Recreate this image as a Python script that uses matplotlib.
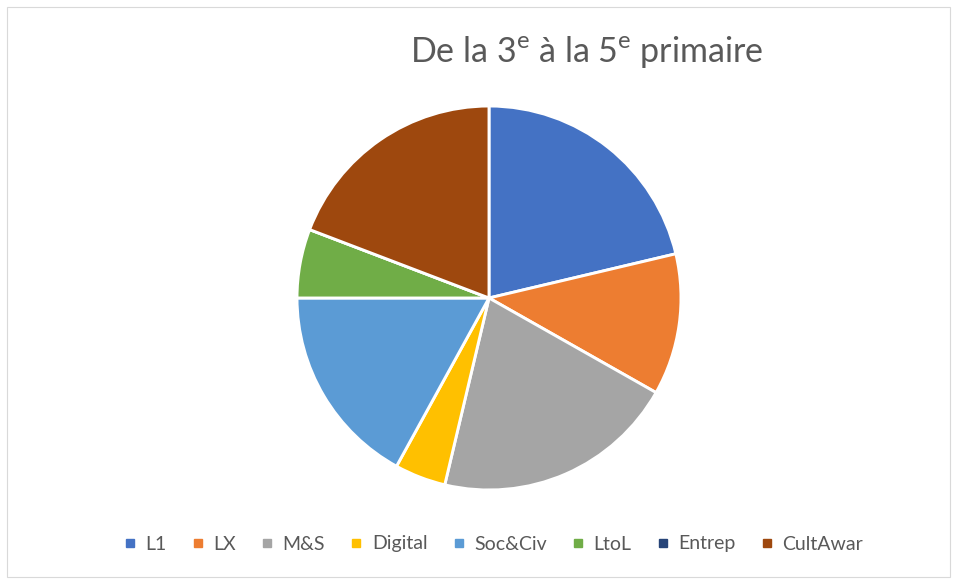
import matplotlib
matplotlib.use("Agg")
import matplotlib.pyplot as plt
from matplotlib.lines import Line2D
from matplotlib.patches import Rectangle

plt.rcParams["font.family"] = ["Lato", "DejaVu Sans"]
plt.rcParams["mathtext.fontset"] = "custom"
plt.rcParams["mathtext.rm"] = "Lato"

categories = ["L1", "LX", "M&S", "Digital", "Soc&Civ", "LtoL", "Entrep", "CultAwar"]
shares = [21.3, 11.9, 20.5, 4.3, 17.0, 5.8, 0.0, 19.2]
colors = ["#4472C4", "#ED7D31", "#A5A5A5", "#FFC000", "#5B9BD5", "#70AD47", "#264478", "#9E480E"]
title = "De la 3$^{\\mathrm{e}}$ à la 5$^{\\mathrm{e}}$ primaire"

W, H = 957, 579
fig = plt.figure(figsize=(W / 100, H / 100), dpi=100)

# chart frame
fig.patches.append(Rectangle((7 / W, 2 / H), 943 / W, 570 / H, transform=fig.transFigure,
                             fill=False, edgecolor="#D9D9D9", linewidth=0.8))

cx, cy, r = 489, 298, 192
ax = fig.add_axes([(cx - r) / W, (H - cy - r) / H, 2 * r / W, 2 * r / H])
ax.pie(shares, colors=colors, startangle=90, counterclock=False, radius=1,
       wedgeprops=dict(edgecolor="white", linewidth=2.1))
ax.set_xlim(-1.0, 1.0)
ax.set_ylim(-1.0, 1.0)
ax.set_aspect("equal")
ax.axis("off")

fig.text(587 / W, 1 - 52 / H, title, ha="center", va="center", fontsize=24.5, color="#595959")

handles = [Line2D([], [], marker="s", linestyle="none", markersize=6,
                  markerfacecolor=c, markeredgecolor=c) for c in colors]
fig.legend(handles, categories, loc="center", bbox_to_anchor=(493 / W, 1 - 544 / H),
           ncol=len(categories), frameon=False, fontsize=14, labelcolor="#595959",
           handlelength=0.7, handletextpad=0.45, columnspacing=1.25)

fig.savefig("out.png", dpi=100)
plt.close(fig)
